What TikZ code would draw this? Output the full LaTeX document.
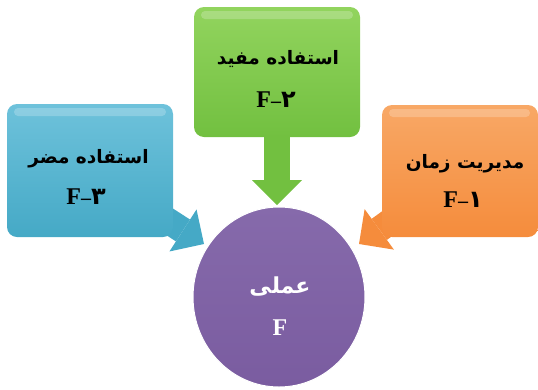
\documentclass[tikz,border=0pt]{standalone}
\usepackage{fontspec}
\setmainfont{Liberation Serif}
\newfontfamily\fa[Script=Arabic]{DejaVu Sans}
\TeXXeTstate=1
\usetikzlibrary{arrows.meta,shapes.geometric}
\pgfdeclarelayer{bg}
\pgfsetlayers{bg,main}
\definecolor{bluec}{HTML}{45A9C6}
\definecolor{bluet}{HTML}{6EC2DB}
\definecolor{greenc}{HTML}{72C040}
\definecolor{greent}{HTML}{92D45E}
\definecolor{orangec}{HTML}{F58C3C}
\definecolor{oranget}{HTML}{F8A866}
\definecolor{purplec}{HTML}{7A5CA0}
\definecolor{purplet}{HTML}{866AAB}
\tikzset{
  box/.style={rectangle, rounded corners=10pt, inner sep=0pt},
  fatarrow/.style={line width=26pt, -{Triangle[width=50pt,length=25pt,line width=0pt]}},
  fatext/.style={font=\fa\bfseries\fontsize{18.5}{20}\selectfont, text=black, inner sep=0pt},
  idtext/.style={font=\bfseries\fontsize{24}{26}\selectfont, text=black, inner sep=0pt},
}
\begin{document}
\begin{tikzpicture}[x=1pt,y=-1pt]
\useasboundingbox (0,0) rectangle (538,389);
% boxes
\node[box, minimum width=166pt, minimum height=133pt, top color=bluet, bottom color=bluec] (b) at (90,170.5) {};
\node[box, minimum width=166pt, minimum height=130pt, top color=greent, bottom color=greenc] (g) at (277,72) {};
\node[box, minimum width=156pt, minimum height=132pt, top color=oranget, bottom color=orangec] (o) at (460,171) {};
\node[ellipse, minimum width=172pt, minimum height=180pt, inner sep=0pt, top color=purplet, bottom color=purplec, draw=white, line width=1pt] (c) at (279,297) {};
% tips
\coordinate (tb) at (204,244);
\coordinate (tg) at (277,205);
\coordinate (to) at (359,244);
\begin{pgfonlayer}{bg}
\draw[fatarrow, bluec] (b.center) -- (tb);
\draw[fatarrow, greenc] (g.center) -- (tg);
\draw[fatarrow, orangec] (o.center) -- (to);
\end{pgfonlayer}
% highlights
\fill[white, opacity=0.22, rounded corners=4pt] (14,108) rectangle (166,116);
\fill[white, opacity=0.22, rounded corners=4pt] (201,11) rectangle (353,19);
\fill[white, opacity=0.22, rounded corners=4pt] (389,109) rectangle (530,117);
% texts
\node[fatext] (bt1) at (88.5,159) {\beginR استفاده مضر\endR};
\node[idtext] (bt2) at (86,197) {F{\fontsize{20}{22}\selectfont–}{\fa ۳}};
\node[fatext] (gt1) at (278,59) {\beginR استفاده مفید\endR};
\node[idtext] (gt2) at (276,100) {F{\fontsize{20}{22}\selectfont–}{\fa ۲}};
\node[fatext] (ot1) at (465,164) {\beginR مدیریت زمان\endR};
\node[idtext] (ot2) at (463,200) {F{\fontsize{20}{22}\selectfont–}{\fa ۱}};
\node[fatext, text=white, font=\fa\bfseries\fontsize{22}{24}\selectfont] (ct1) at (280,287) {\beginR عملی\endR};
\node[idtext, text=white] (ct2) at (280,328) {F};
\end{tikzpicture}
\end{document}
